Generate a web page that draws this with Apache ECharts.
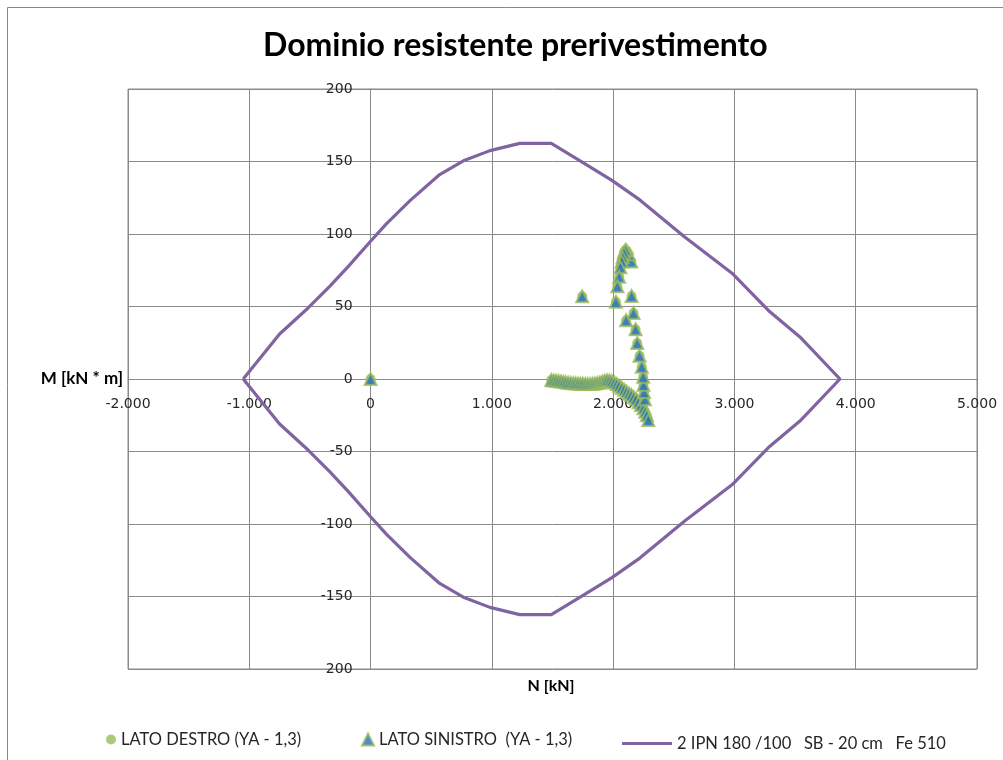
<!DOCTYPE html>
<html>
<head>
<meta charset="utf-8">
<script src="https://cdn.jsdelivr.net/npm/echarts@6/dist/echarts.min.js"></script>
<style>
  html, body { margin: 0; padding: 0; background: #ffffff; }
  #chart { width: 1003px; height: 760px; }
</style>
</head>
<body>
<div id="chart"></div>
<script>
// Axis ticks and their printed labels
const xTicks = [-2000, -1000, 0, 1000, 2000, 3000, 4000, 5000];
const xTickLabels = ['-2.000', '-1.000', '0', '1.000', '2.000', '3.000', '4.000', '5.000'];
const yTicks = [-200, -150, -100, -50, 0, 50, 100, 150, 200];
const yTickLabels = ['200', '-150', '-100', '-50', '0', '50', '100', '150', '200'];

// Resistance domain envelope: N [kN], M [kN*m]
const envelopeN = [-1050, -750, -515, -335, -185, 0, 130, 325, 570, 765, 985, 1230, 1490,
  1755, 1990, 2220, 2590, 2980, 3290, 3540, 3870,
  3540, 3290, 2980, 2590, 2220, 1990, 1755, 1490, 1230, 985, 765, 570, 325, 130, 0,
  -185, -335, -515, -750, -1050];
const envelopeM = [0, 31, 49, 64, 77.5, 95, 107, 123, 141, 150.5, 157.5, 162.5, 162.5,
  149, 137, 123.5, 98, 73, 46.5, 29, 0,
  -29, -46.5, -73, -98, -123.5, -137, -149, -162.5, -162.5, -157.5, -150.5, -141, -123, -107, -95,
  -77.5, -64, -49, -31, 0];

// Right side load points
const destroN = [0, 1490, 1510, 1530, 1550, 1570, 1590, 1610, 1630, 1650, 1670, 1690, 1710, 1730,
  1750, 1770, 1790, 1810, 1830, 1850, 1870, 1890, 1910, 1930, 1950, 1970, 1990, 2010, 2030, 2050,
  2070, 2090, 2110, 2130, 2150, 2170, 2190, 2210, 2230, 2250, 2265, 2278, 2290,
  2262, 2255, 2250, 2248, 2236, 2218, 2199, 2185, 2168, 2152, 2107, 2150, 2130, 2112, 2100, 2088,
  2078, 2070, 2060, 2050, 2035, 2023, 1745];
const destroM = [0, -0.7, -1.0, -1.2, -1.4, -1.7, -1.9, -2.2, -2.5, -2.7, -2.9, -3.0, -3.1, -3.2,
  -3.3, -3.4, -3.4, -3.4, -3.3, -3.1, -2.8, -2.4, -1.8, -1.2, -0.8, -1.0, -1.6, -2.4, -3.4, -4.6,
  -6.0, -7.4, -8.8, -10.0, -11.0, -12.5, -14.0, -16.0, -18.0, -20.2, -22.6, -25.0, -28.3,
  -14, -9, -4, 1.6, 8.5, 16, 24.8, 34.3, 45.5, 57.3, 40.5, 81, 86, 88.5, 89, 87,
  84, 81, 77, 70.5, 64, 53.3, 57];

// Left side load points
const sinistroN = [0, 1490, 1510, 1530, 1550, 1570, 1590, 1610, 1630, 1650, 1670, 1690, 1710, 1730,
  1750, 1770, 1790, 1810, 1830, 1850, 1870, 1890, 1910, 1930, 1950, 1970, 1990, 2010, 2030, 2050,
  2070, 2090, 2110, 2130, 2150, 2170, 2190, 2210, 2230, 2250, 2265, 2278, 2290,
  2262, 2255, 2250, 2248, 2236, 2218, 2199, 2185, 2168, 2152, 2107, 2150, 2130, 2112, 2100, 2088,
  2078, 2070, 2060, 2050, 2035, 2023, 1745];
const sinistroM = [0, -0.7, -1.0, -1.2, -1.4, -1.7, -1.9, -2.2, -2.5, -2.7, -2.9, -3.0, -3.1, -3.2,
  -3.3, -3.4, -3.4, -3.4, -3.3, -3.1, -2.8, -2.4, -1.8, -1.2, -0.8, -1.0, -1.6, -2.4, -3.4, -4.6,
  -6.0, -7.4, -8.8, -10.0, -11.0, -12.5, -14.0, -16.0, -18.0, -20.2, -22.6, -25.0, -28.3,
  -14, -9, -4, 1.6, 8.5, 16, 24.8, 34.3, 45.5, 57.3, 40.5, 81, 86, 88.5, 89, 87,
  84, 81, 77, 70.5, 64, 53.3, 57];

const seriesNames = ['LATO DESTRO (YA - 1,3)', 'LATO SINISTRO  (YA - 1,3)', '2 IPN 180 /100   SB - 20 cm   Fe 510'];

const pairs = (a, b) => a.map((v, i) => [v, b[i]]);

const gridColor = '#8a8a8a';
const textFont = 'Lato, "Open Sans", sans-serif';
const tickFont = '"DejaVu Sans", Verdana, sans-serif';
const green = '#9BBB59';
const blue = '#1F6EC6';
const purple = '#8064A2';

// plot box
const gridLeft = 128, gridRight = 26, gridTop = 89, gridBottom = 91;
const plotW = 1003 - gridLeft - gridRight;
const plotH = 760 - gridTop - gridBottom;
// shift the axes so their labels sit along the zero lines
const yAxisShift = -plotW * (0 - xTicks[0]) / (xTicks[xTicks.length - 1] - xTicks[0]);
const xAxisShift = -plotH * (0 - yTicks[0]) / (yTicks[yTicks.length - 1] - yTicks[0]);

const chart = echarts.init(document.getElementById('chart'), null, { renderer: 'canvas' });

const legendBase = {
  top: 726,
  itemHeight: 10,
  itemWidth: 10,
  itemGap: 10,
  textStyle: { fontFamily: textFont, fontSize: 16.5, color: '#262626' },
  selectedMode: false
};

chart.setOption({
  animation: false,
  backgroundColor: '#ffffff',
  title: {
    text: 'Dominio resistente prerivestimento',
    left: 258,
    top: 25,
    textStyle: { fontFamily: textFont, fontSize: 32, fontWeight: 'bold', color: '#000000' }
  },
  graphic: [
    {
      type: 'rect',
      shape: { x: 7.5, y: 7.5, width: 1100, height: 1000 },
      style: { fill: 'none', stroke: '#878787', lineWidth: 1 },
      z: -10
    },
    {
      type: 'text',
      x: 123,
      y: 379,
      style: { text: 'M [kN * m]', font: 'bold 17px ' + textFont, fill: '#000000', align: 'right', verticalAlign: 'middle' }
    },
    {
      type: 'text',
      x: 551,
      y: 686,
      style: { text: 'N [kN]', font: 'bold 16px ' + textFont, fill: '#000000', align: 'center', verticalAlign: 'middle' }
    }
  ],
  legend: [
    Object.assign({}, legendBase, { left: 101, data: [seriesNames[0]] }),
    Object.assign({}, legendBase, { left: 356, itemWidth: 12, itemHeight: 12, data: [seriesNames[1]] }),
    Object.assign({}, legendBase, { left: 617, top: 730, itemWidth: 50, itemHeight: 3, itemGap: 3,
      data: [{ name: seriesNames[2], icon: 'rect' }] })
  ],
  grid: {
    left: gridLeft,
    right: gridRight,
    top: gridTop,
    bottom: gridBottom,
    show: true,
    borderColor: gridColor,
    borderWidth: 1,
    containLabel: false
  },
  xAxis: {
    type: 'value',
    min: xTicks[0],
    max: xTicks[xTicks.length - 1],
    interval: 1000,
    offset: xAxisShift,
    axisLine: { onZero: false, lineStyle: { color: gridColor, width: 1 } },
    axisTick: { show: false },
    splitLine: { show: true, lineStyle: { color: gridColor, width: 1 } },
    axisLabel: {
      margin: 18,
      fontFamily: tickFont,
      fontSize: 14,
      color: '#262626',
      formatter: v => xTickLabels[xTicks.indexOf(v)]
    }
  },
  yAxis: {
    type: 'value',
    min: yTicks[0],
    max: yTicks[yTicks.length - 1],
    interval: 50,
    offset: yAxisShift,
    axisLine: { onZero: false, lineStyle: { color: gridColor, width: 1 } },
    axisTick: { show: false },
    splitLine: { show: true, lineStyle: { color: gridColor, width: 1 } },
    axisLabel: {
      margin: 18,
      fontFamily: tickFont,
      fontSize: 14,
      color: '#262626',
      formatter: v => yTickLabels[yTicks.indexOf(v)]
    }
  },
  series: [
    {
      name: seriesNames[0],
      type: 'scatter',
      symbol: 'circle',
      symbolSize: 10,
      itemStyle: { color: green },
      data: pairs(destroN, destroM),
      z: 3
    },
    {
      name: seriesNames[1],
      type: 'scatter',
      symbol: 'triangle',
      symbolSize: 12,
      itemStyle: { color: blue, borderColor: green, borderWidth: 2 },
      data: pairs(sinistroN, sinistroM),
      z: 4
    },
    {
      name: seriesNames[2],
      type: 'line',
      showSymbol: false,
      symbol: 'none',
      smooth: false,
      lineStyle: { color: purple, width: 3.2 },
      itemStyle: { color: purple },
      data: pairs(envelopeN, envelopeM),
      z: 2
    }
  ]
});
</script>
</body>
</html>
